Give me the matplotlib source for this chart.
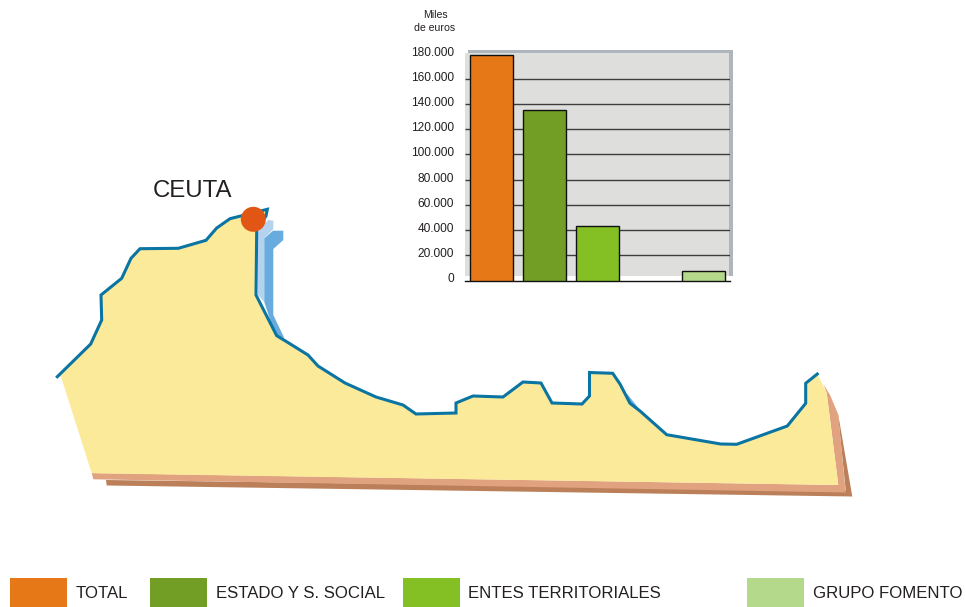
import numpy as np
from matplotlib import pyplot as plt
from matplotlib.patches import Polygon, Circle, Rectangle
from matplotlib.transforms import ScaledTranslation

plt.rcParams['font.family'] = ['Liberation Sans', 'DejaVu Sans']

################################## CHART DATA ##################################

# empty string = the free slot between entes territoriales and grupo fomento
categories = ['TOTAL', 'ESTADO Y S. SOCIAL', 'ENTES TERRITORIALES', '', 'GRUPO FOMENTO']
values = [178700, 135500, 43200, np.nan, 7800]
bar_colors = ['#e77817', '#739e26', '#84c024', '#ffffff', '#b5d98b']
yticks = [0, 20000, 40000, 60000, 80000, 100000, 120000, 140000, 160000, 180000]
ytick_labels = ['0', '20.000', '40.000', '60.000', '80.000', '100.000', '120.000',
                '140.000', '160.000', '180.000']

############################### MAP OUTLINE (px) ###############################

coast = [(57.3, 376.7), (90.7, 344), (101.7, 320), (101, 295), (121.7, 278.3), (131, 258.3),
         (140, 248.7), (178.3, 248.3), (206, 240.3), (216.7, 228), (230, 218.7), (267.3, 209.3),
         (266, 216), (256.7, 230), (256, 295), (276.7, 335.7), (285, 340.7), (308, 355), (318, 366),
         (345, 383), (376, 397), (403, 405), (416, 414), (456, 413), (456, 403), (473, 396),
         (503, 397), (523, 382), (541, 383), (552, 403), (582, 404), (589.5, 396), (589.5, 372.5),
         (612.7, 373.3), (620, 384), (630, 403.3), (640, 411), (666.7, 434.7), (720.7, 444),
         (736.7, 444.3), (787.3, 426), (805.7, 403.3), (805.7, 383.3), (817.3, 374)]
land_edge = [(826.7, 393), (838.3, 485), (91.7, 473.3), (61, 376.7)]
salmon = [(823.3, 384), (830, 395), (838.3, 415), (845.7, 492.5), (93.3, 479.3), (91.7, 473),
          (838.3, 485), (826.7, 393)]
brown = [(830, 395), (838.3, 415), (852.3, 496.5), (106.7, 485.5), (106, 480), (845.7, 490), (838, 415)]
light_blue = [(258, 232), (268, 220), (273.3, 220.7), (273.3, 229), (264.3, 238), (264.3, 302), (258, 295)]
dark_blue = [(273, 230.7), (283.3, 230.7), (283.3, 240), (273.3, 249), (273.3, 315), (284.3, 338),
             (275, 335), (264.3, 302), (264.3, 238.3)]
dark_blue2 = [(626.7, 393.3), (640, 410), (630, 403)]

################################################################################

W, H = 966, 607
fig = plt.figure(figsize=(W/100, H/100), dpi=100)

# background axes in pixel coords for the map, panel and legend
bg = fig.add_axes([0, 0, 1, 1])
bg.set_xlim(0, W)
bg.set_ylim(H, 0)
bg.axis('off')

bg.add_patch(Polygon(brown, closed=True, fc='#bb8059', ec='none'))
bg.add_patch(Polygon(salmon, closed=True, fc='#e0a27f', ec='none'))
bg.add_patch(Polygon(coast + land_edge, closed=True, fc='#fcea9b', ec='none'))
bg.add_patch(Polygon(light_blue, closed=True, fc='#b5d3ee', ec='none'))
bg.add_patch(Polygon(dark_blue, closed=True, fc='#68acdf', ec='none'))
bg.add_patch(Polygon(dark_blue2, closed=True, fc='#68acdf', ec='none'))
bg.plot([p[0] for p in coast], [p[1] for p in coast], color='#0a74a3', lw=2.2, solid_joinstyle='miter')
bg.add_patch(Circle((253.3, 219.3), 12.5, fc='#e25615', ec='none', zorder=5))
bg.text(192.5, 191, 'CEUTA', fontsize=17.3, color='#231f20', ha='center', va='center')

# chart panel with its shadow
bg.add_patch(Rectangle((468, 49.5), 265, 226.5, fc='#adb6bd', ec='none'))
bg.add_patch(Rectangle((465, 53), 264, 223, fc='#dededd', ec='none'))
bg.text(435, 14.5, 'Miles', fontsize=7.6, color='#231f20', ha='center', va='center')
bg.text(434.5, 28, 'de euros', fontsize=7.6, color='#231f20', ha='center', va='center')

# legend, spaced as in the original
swatch_x = [10, 150, 402.5, 747]
for x, name, col in zip(swatch_x, [c for c in categories if c], [c for c, n in zip(bar_colors, categories) if n]):
    bg.add_patch(Rectangle((x, 578), 57, 29, fc=col, ec='none'))
    bg.text(x + 66, 593, name, fontsize=12.1, color='#231f20', ha='left', va='center')

# bars
ax = fig.add_axes([465/W, 1 - 280.5/H, 265/W, (280.5 - 53.7)/H])
ax.patch.set_alpha(0)
ax.bar(range(len(values)), values, width=0.81, color=bar_colors, edgecolor='#111111', linewidth=1, zorder=3)
ax.set_xlim(-0.5, 4.5)
ax.set_ylim(0, 180000)
ax.set_xticks([])
ax.set_yticks(yticks)
ax.set_yticklabels(ytick_labels, fontsize=8.6, color='#231f20')
ax.tick_params(axis='y', length=0, pad=8)
# labels sit a little above their lines in the original
up = ScaledTranslation(0, 0.025, fig.dpi_scale_trans)
for lab in ax.get_yticklabels():
    lab.set_transform(lab.get_transform() + up)
ax.hlines(yticks[1:-1], -0.5, 4.5, color='#3c3c3c', lw=1, zorder=1)
for s in ['top', 'left', 'right']:
    ax.spines[s].set_visible(False)
ax.spines['bottom'].set_color('#111111')
ax.spines['bottom'].set_linewidth(1)

fig.savefig('out.png', dpi=100)
